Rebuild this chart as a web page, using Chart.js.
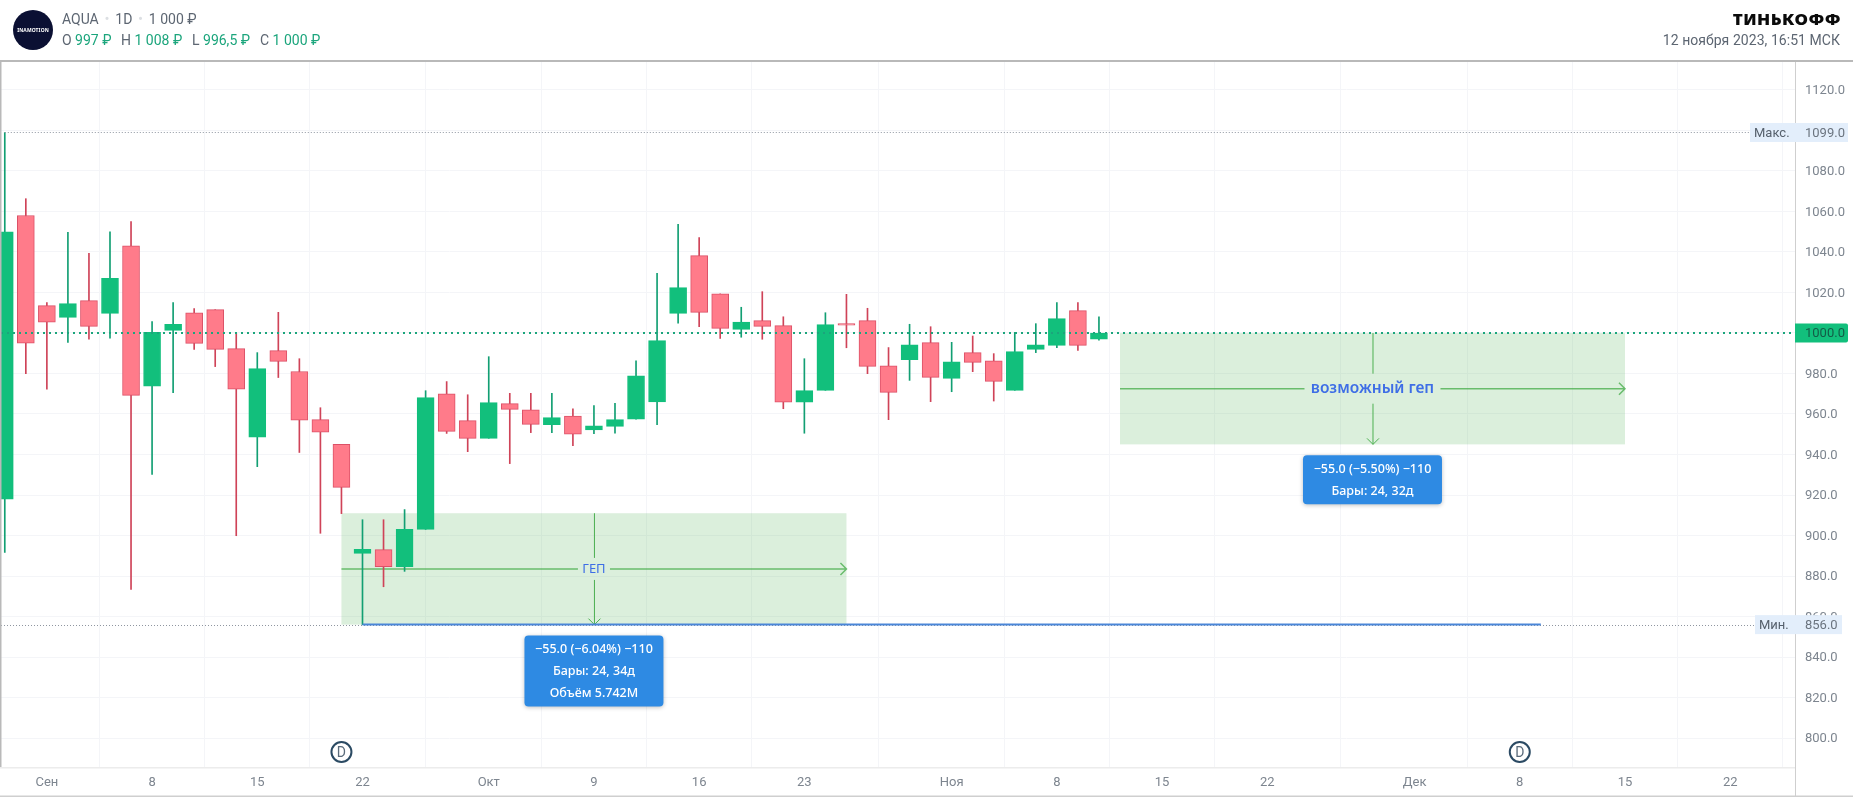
<!DOCTYPE html>
<html lang="ru">
<head>
<meta charset="utf-8">
<title>AQUA 1D</title>
<script src="https://cdn.jsdelivr.net/npm/chart.js@4"></script>
<style>
  html, body { margin: 0; padding: 0; background: #fff; overflow: hidden; }
  #wrap { position: relative; width: 1853px; height: 797px; }
  #chart { position: absolute; left: 0; top: 0; }
  .hdr { position: absolute; white-space: pre; font-family: Roboto, sans-serif; font-size: 14px; line-height: 16px; color: #5d6672; }
  .up { color: #1ba57c; }
  .sep { color: #dcdfe3; margin: 0 2px; font-size: 15px; }
  #logo { position: absolute; left: 13px; top: 10px; width: 40px; height: 40px; border-radius: 50%; background: #0b1033; color: #fff;
          font: bold 5px/40px "Noto Sans", sans-serif; text-align: center; letter-spacing: 0.1px; }
  #brand { right: 12px; top: 10px; font: 900 15px/18px "Noto Sans", sans-serif; color: #0b0b0b; letter-spacing: 0.4px; transform: scaleX(1.14); transform-origin: right center; }
</style>
</head>
<body>
<div id="wrap">
  <canvas id="chart" width="1853" height="797"></canvas>
  <div id="logo">INAMOTION</div>
  <div class="hdr" style="left:62px;top:11px">AQUA<span class="sep"> • </span>1D<span class="sep"> • </span>1 000 ₽</div>
  <div class="hdr" style="left:62px;top:32px">O <span class="up">997 ₽</span></div>
  <div class="hdr" style="left:121px;top:32px">H <span class="up">1 008 ₽</span></div>
  <div class="hdr" style="left:192px;top:32px">L <span class="up">996,5 ₽</span></div>
  <div class="hdr" style="left:260px;top:32px">C <span class="up">1 000 ₽</span></div>
  <div class="hdr" id="brand">ТИНЬКОФФ</div>
  <div class="hdr" style="right:13px;top:32px;letter-spacing:0.05px">12 ноября 2023, 16:51 МСК</div>
</div>
<script>
// Daily candles, first bar is 30 Aug 2023
const opens  = [918, 1058, 1013.5, 1007.7, 1016, 1009.7, 1043, 973.7, 1001.3, 1010, 1011.5, 992.3, 948.5, 991.3, 981, 957.2, 945,
                891.2, 893, 884.6, 903, 970, 956.7, 948, 965.1, 962.1, 954.7, 959, 952.1, 953.9, 957.4, 965.9, 1009.7, 1038.2,
                1019.3, 1001.8, 1006.1, 1003.6, 965.8, 971.7, 1004.6, 1006.1, 983.8, 986.8, 995.2, 977.6, 990.3, 986.3, 971.7,
                991.9, 993.9, 1011, 997];
const highs  = [1099, 1066.3, 1015, 1049.7, 1039.3, 1050, 1055, 1005.6, 1015, 1012, 1011.5, 1000, 990.3, 1010.2, 987.3, 963.1, 945,
                907.8, 907.8, 912.8, 971.5, 976, 969.5, 988.3, 970.2, 970.2, 970.2, 962.6, 964.1, 965.3, 986.3, 1029.5, 1053.7, 1047.1,
                1019.3, 1012.7, 1020.4, 1008, 987.3, 1010, 1019.1, 1012.2, 992.8, 1004.3, 1003.1, 995.4, 998.5, 989.8, 1000.3,
                1004.6, 1015, 1015, 1008];
const lows   = [891.7, 979.9, 972.2, 995.4, 996.9, 997.4, 873.4, 930.2, 970.5, 991.9, 983.4, 899.9, 934, 978, 941, 901.1, 910.8,
                856, 874.7, 882.3, 903, 950.4, 941.4, 948, 935.5, 950.8, 950.8, 944.4, 950.3, 950.5, 957.4, 954.7, 1004.8, 1003.1,
                997.3, 997.9, 996.9, 962.6, 950.5, 971.7, 992.7, 979.9, 957.2, 976.6, 966.1, 971, 980.9, 966.4, 971.7,
                990.3, 992.8, 991.4, 996.5];
const closes = [1050, 995, 1005.3, 1014.5, 1003.3, 1027, 969.2, 1000.3, 1004.3, 994.9, 991.9, 972.2, 982.4, 986, 956.9, 951, 923.8,
                893.2, 884.6, 903, 968.1, 951.4, 948, 965.6, 962.3, 954.9, 958.2, 950, 954.2, 957.2, 978.9, 996.2, 1022.4, 1010.2,
                1002.3, 1005.4, 1003.3, 965.8, 971.5, 1004.1, 1003.8, 983.5, 970.7, 994.2, 978.1, 985.8, 985.5, 976.1, 990.8,
                994.2, 1007.1, 993.9, 1000];

// Time axis, bar index and its label
const dateTickBars = [2, 7, 12, 17, 23, 28, 33, 38, 45, 50, 55, 60, 67, 72, 77, 82];
const dateTickLabels = ['Сен', '8', '15', '22', 'Окт', '9', '16', '23', 'Ноя', '8', '15', '22', 'Дек', '8', '15', '22'];
const priceTicks = [800, 820, 840, 860, 880, 900, 920, 940, 960, 980, 1000, 1020, 1040, 1060, 1080, 1100, 1120];

const lastPrice = 1000;
const maxPrice = 1099;
const minPrice = 856;

// Drawn objects: [first bar, last bar, top price, bottom price]
const gapBox = [16, 40, 911, 856];
const possibleGapBox = [53, 77, 1000, 945];
const trendLine = [17, 73, 856];
const dividendBars = [16, 72];

const gapBoxLines = ['−55.0 (−6.04%) −110', 'Бары: 24, 34д', 'Объём 5.742M'];
const possibleGapLines = ['−55.0 (−5.50%) −110', 'Бары: 24, 32д'];

const GREEN = '#12bf7c';
const GREEN_WICK = '#129f73';
const RED = '#ff7b8a';
const RED_BORDER = '#dc5167';
const RED_WICK = '#cf4358';
const GRID = '#f4f5f8';
const TEXT = '#7d858f';
const ARROW = '#4caf50';
const NOTE_BLUE = '#3e6ee6';

const barIndexes = opens.map((_, i) => i);
const isUp = i => closes[i] >= opens[i];

// Filled box with a cross of arrows in it and a caption in the middle
function drawMeasureBox(ctx, x, y, box, caption, font, gapW, gapH) {
    const left = x.getPixelForValue(box[0]);
    const right = x.getPixelForValue(box[1]);
    const top = y.getPixelForValue(box[2]);
    const bottom = y.getPixelForValue(box[3]);
    const cx = x.getPixelForValue((box[0] + box[1]) / 2);
    const cy = (top + bottom) / 2;

    ctx.fillStyle = 'rgba(76, 175, 80, 0.2)';
    ctx.fillRect(left, top, right - left, bottom - top);

    ctx.strokeStyle = ARROW;
    ctx.globalAlpha = 0.8;
    ctx.lineWidth = 1.5;
    ctx.beginPath();
    ctx.moveTo(left, cy);
    ctx.lineTo(cx - gapW, cy);
    ctx.moveTo(cx + gapW, cy);
    ctx.lineTo(right, cy);
    ctx.moveTo(right - 6, cy - 6);
    ctx.lineTo(right, cy);
    ctx.lineTo(right - 6, cy + 6);
    ctx.stroke();
    ctx.globalAlpha = 1;

    ctx.lineWidth = 1;
    ctx.beginPath();
    ctx.moveTo(cx + 0.5, top);
    ctx.lineTo(cx + 0.5, cy - gapH);
    ctx.moveTo(cx + 0.5, cy + gapH);
    ctx.lineTo(cx + 0.5, bottom);
    ctx.moveTo(cx - 5.5, bottom - 6);
    ctx.lineTo(cx + 0.5, bottom);
    ctx.lineTo(cx + 6.5, bottom - 6);
    ctx.stroke();

    ctx.fillStyle = NOTE_BLUE;
    ctx.font = font;
    ctx.textAlign = 'center';
    ctx.textBaseline = 'middle';
    ctx.fillText(caption, cx, cy);
}

// Blue label under a measure box
function drawInfoLabel(ctx, cx, top, w, lines) {
    const h = lines.length * 22 + 5;
    ctx.save();
    ctx.shadowColor = 'rgba(0, 0, 0, 0.25)';
    ctx.shadowBlur = 4;
    ctx.shadowOffsetY = 1;
    ctx.fillStyle = '#2e8ae3';
    ctx.beginPath();
    ctx.roundRect(cx - w / 2, top, w, h, 4);
    ctx.fill();
    ctx.restore();
    ctx.fillStyle = '#fff';
    ctx.font = '500 12.5px "Noto Sans"';
    ctx.textAlign = 'center';
    ctx.textBaseline = 'middle';
    lines.forEach((line, i) => ctx.fillText(line, cx, top + 14 + i * 22));
}

function drawDottedLine(ctx, from, to, py, color, width, dash) {
    ctx.save();
    ctx.strokeStyle = color;
    ctx.lineWidth = width;
    ctx.setLineDash(dash);
    ctx.beginPath();
    ctx.moveTo(from, py);
    ctx.lineTo(to, py);
    ctx.stroke();
    ctx.restore();
}

// Price tag sitting across the right axis
function drawPriceTag(ctx, left, right, py, name, price) {
    ctx.fillStyle = '#e3eefb';
    ctx.fillRect(left, py - 9.5, right - left, 19);
    ctx.fillStyle = '#56606c';
    ctx.font = '13px Roboto';
    ctx.textAlign = 'left';
    ctx.textBaseline = 'middle';
    ctx.fillText(name, left + 4, py + 1);
    ctx.fillStyle = '#6b747f';
    ctx.fillText(price.toFixed(1), 1805, py + 1);
}

const overlayPlugin = {
    id: 'overlay',
    beforeDatasetsDraw(chart) {
        const { ctx, scales: { x, y } } = chart;
        ctx.save();
        drawMeasureBox(ctx, x, y, gapBox, 'ГЕП', '13px "Noto Sans"', 16, 11);
        drawMeasureBox(ctx, x, y, possibleGapBox, 'возможный геп', '600 15.5px "Noto Sans"', 68, 15);
        ctx.restore();
    },
    afterDatasetsDraw(chart) {
        const { ctx, chartArea: area, scales: { x, y } } = chart;
        ctx.save();

        // Session high and low, last close
        drawDottedLine(ctx, x.getPixelForValue(0), 1750, Math.round(y.getPixelForValue(maxPrice)) + 0.5, '#8f96a0', 1, [1, 2]);
        drawDottedLine(ctx, area.left, 1755, Math.round(y.getPixelForValue(minPrice)) + 0.5, '#8f96a0', 1, [1, 2]);
        drawDottedLine(ctx, area.left, area.right, Math.round(y.getPixelForValue(lastPrice)), '#1ba57c', 2, [2, 4]);

        ctx.strokeStyle = '#4a86d8';
        ctx.lineWidth = 2;
        ctx.beginPath();
        ctx.moveTo(x.getPixelForValue(trendLine[0]), y.getPixelForValue(trendLine[2]));
        ctx.lineTo(x.getPixelForValue(trendLine[1]), y.getPixelForValue(trendLine[2]));
        ctx.stroke();

        drawInfoLabel(ctx, x.getPixelForValue(28), y.getPixelForValue(gapBox[3]) + 11, 139, gapBoxLines);
        drawInfoLabel(ctx, x.getPixelForValue(65), y.getPixelForValue(possibleGapBox[3]) + 11, 139, possibleGapLines);

        // Dividend markers
        dividendBars.forEach(bar => {
            const cx = x.getPixelForValue(bar);
            ctx.beginPath();
            ctx.arc(cx, 752, 10, 0, Math.PI * 2);
            ctx.fillStyle = '#fff';
            ctx.fill();
            ctx.strokeStyle = '#2b4a63';
            ctx.lineWidth = 2;
            ctx.stroke();
            ctx.fillStyle = '#5a6b7b';
            ctx.font = '14px Roboto';
            ctx.textAlign = 'center';
            ctx.textBaseline = 'middle';
            ctx.fillText('D', cx, 753);
        });

        // Frame around the panes
        ctx.fillStyle = '#b9b9b9';
        ctx.fillRect(0, 60, 1853, 2);
        ctx.fillRect(0, 62, 1.5, 705);
        ctx.fillStyle = '#cfcfcf';
        ctx.fillRect(area.right, 62, 1, 735);
        ctx.fillRect(0, 795.5, 1853, 1.5);
        ctx.fillStyle = '#ececec';
        ctx.fillRect(0, area.bottom, area.right, 1.5);

        drawPriceTag(ctx, 1750, 1848, y.getPixelForValue(maxPrice), 'Макс.', maxPrice);
        drawPriceTag(ctx, 1755, 1842, y.getPixelForValue(minPrice), 'Мин.', minPrice);

        // Last price tag
        const lastY = y.getPixelForValue(lastPrice);
        ctx.fillStyle = '#12bf7c';
        ctx.beginPath();
        ctx.roundRect(area.right, lastY - 9.5, 53, 19, [0, 2, 2, 0]);
        ctx.fill();
        ctx.fillStyle = '#135c47';
        ctx.font = '13px Roboto';
        ctx.textAlign = 'left';
        ctx.textBaseline = 'middle';
        ctx.fillText(lastPrice.toFixed(1), 1805, lastY + 1);
        ctx.restore();
    }
};

new Chart(document.getElementById('chart'), {
    type: 'bar',
    data: {
        datasets: [
            {
                // first dataset is painted on top, so the bodies cover the wicks
                label: 'Тело',
                data: barIndexes.map(i => ({ x: i, y: [opens[i], closes[i]] })),
                backgroundColor: barIndexes.map(i => isUp(i) ? GREEN : RED),
                borderColor: barIndexes.map(i => isUp(i) ? GREEN : RED_BORDER),
                borderWidth: 1,
                borderSkipped: false,
                barThickness: 17,
                grouped: false
            },
            {
                label: 'Тень',
                data: barIndexes.map(i => ({ x: i, y: [lows[i], highs[i]] })),
                backgroundColor: barIndexes.map(i => isUp(i) ? GREEN_WICK : RED_WICK),
                borderWidth: 0,
                barThickness: 1,
                grouped: false
            }
        ]
    },
    options: {
        responsive: false,
        animation: false,
        events: [],
        layout: { padding: { top: 62, left: 1 } },
        plugins: { legend: { display: false }, tooltip: { enabled: false } },
        scales: {
            x: {
                type: 'linear',
                offset: false,
                min: -0.18,
                max: 85.08,
                afterBuildTicks(axis) {
                    axis.ticks = dateTickBars.map(value => ({ value }));
                },
                afterFit(axis) {
                    axis.height = 30;
                },
                grid: { color: GRID, drawTicks: false },
                border: { display: false },
                ticks: {
                    autoSkip: false,
                    maxRotation: 0,
                    padding: 8,
                    color: TEXT,
                    font: { family: 'Roboto', size: 13 },
                    callback: (value, index) => dateTickLabels[index]
                }
            },
            y: {
                position: 'right',
                min: 785.7,
                max: 1133.8,
                afterBuildTicks(axis) {
                    axis.ticks = priceTicks.map(value => ({ value }));
                },
                afterFit(axis) {
                    axis.width = 58;
                },
                grid: { color: GRID, drawTicks: false },
                border: { display: false },
                ticks: {
                    padding: 10,
                    labelOffset: 1,
                    color: TEXT,
                    font: { family: 'Roboto', size: 13 },
                    callback: value => value.toFixed(1)
                }
            }
        }
    },
    plugins: [overlayPlugin]
});
</script>
</body>
</html>
